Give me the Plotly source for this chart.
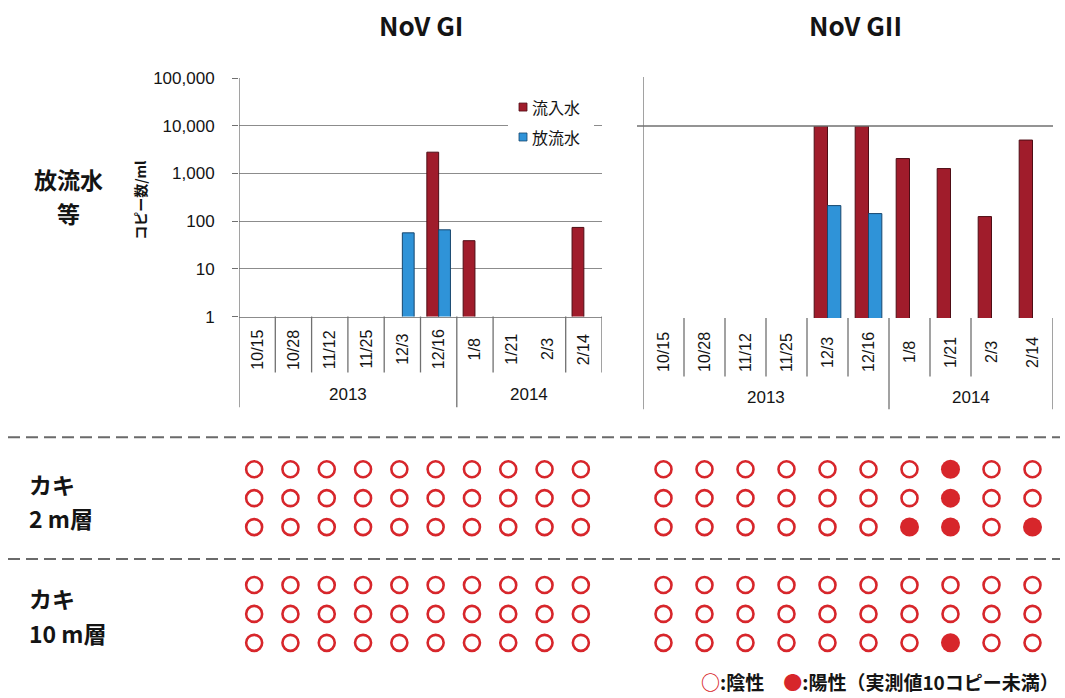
import plotly.graph_objects as go

W, H = 1065, 698

# ---- data -------------------------------------------------------------
dates = ["10/15", "10/28", "11/12", "11/25", "12/3", "12/16", "1/8", "1/21", "2/3", "2/14"]
years = ["2013"] * 6 + ["2014"] * 4

# copies/ml in sewage water (None = not detected)
gi_influent = [None, None, None, None, None, 2800, 39, None, None, 74]
gi_effluent = [None, None, None, None, 57, 66, None, None, None, None]
gii_influent = [None, None, None, None, 10000, 10000, 2100, 1300, 130, 5100]
gii_effluent = [None, None, None, None, 220, 150, None, None, None, None]

y_tickvals = [1, 10, 100, 1000, 10000, 100000]
y_ticktext = ["1", "10", "100", "1,000", "10,000", "100,000"]

# oysters, 3 specimens per sampling date: 0 = negative, 1 = positive (<10 copies)
gi_oyster_2m = [[0] * 10, [0] * 10, [0] * 10]
gi_oyster_10m = [[0] * 10, [0] * 10, [0] * 10]
gii_oyster_2m = [
    [0, 0, 0, 0, 0, 0, 0, 1, 0, 0],
    [0, 0, 0, 0, 0, 0, 0, 1, 0, 0],
    [0, 0, 0, 0, 0, 0, 1, 1, 0, 1],
]
gii_oyster_10m = [
    [0, 0, 0, 0, 0, 0, 0, 0, 0, 0],
    [0, 0, 0, 0, 0, 0, 0, 0, 0, 0],
    [0, 0, 0, 0, 0, 0, 0, 1, 0, 0],
]

# ---- styles -----------------------------------------------------------
RED_BAR = "#a01c2b"
RED_EDGE = "#4e0d15"
BLUE_BAR = "#2f93d8"
BLUE_EDGE = "#17476e"
DOT_RED = "#d7262b"
GRID = "#8c8c8c"
AXIS = "#707070"
TEXT = "#141414"
JP = "Noto Sans CJK JP"
LAT = "Liberation Sans, Arial, sans-serif"


def px(x):
    return x / W


def py(y):
    # vertical pixel -> paper fraction, stretched slightly about the middle
    yc = H / 2 + (y - H / 2) / 0.975
    return 1 - yc / H


fig = go.Figure()

# ---- bar charts -------------------------------------------------------
for xa, ya, infl, effl in [("x", "y", gi_influent, gi_effluent),
                           ("x2", "y2", gii_influent, gii_effluent)]:
    fig.add_trace(go.Bar(x=dates, y=infl, name="流入水", xaxis=xa, yaxis=ya,
                         marker=dict(color=RED_BAR, line=dict(color=RED_EDGE, width=1)),
                         showlegend=False))
    fig.add_trace(go.Bar(x=dates, y=effl, name="放流水", xaxis=xa, yaxis=ya,
                         marker=dict(color=BLUE_BAR, line=dict(color=BLUE_EDGE, width=1)),
                         showlegend=False))


# ---- oyster dot grids -------------------------------------------------
def dot_points(layers):
    neg_x, neg_y, pos_x, pos_y = [], [], [], []
    row = 0
    for layer in layers:
        for specimen in layer:
            for d, v in zip(dates, specimen):
                if v:
                    pos_x.append(d)
                    pos_y.append(row)
                else:
                    neg_x.append(d)
                    neg_y.append(row)
            row += 1
        row += 1  # empty row between the two depth layers
    return neg_x, neg_y, pos_x, pos_y


for xa, ya, layers in [("x3", "y3", [gi_oyster_2m, gi_oyster_10m]),
                       ("x4", "y4", [gii_oyster_2m, gii_oyster_10m])]:
    nx, ny, qx, qy = dot_points(layers)
    fig.add_trace(go.Scatter(x=nx, y=ny, xaxis=xa, yaxis=ya, mode="markers",
                             marker=dict(symbol="circle-open", size=16, color=DOT_RED,
                                         line=dict(width=2.6, color=DOT_RED)),
                             showlegend=False, name="陰性"))
    fig.add_trace(go.Scatter(x=qx, y=qy, xaxis=xa, yaxis=ya, mode="markers",
                             marker=dict(symbol="circle", size=19, color=DOT_RED,
                                         line=dict(width=0)),
                             showlegend=False, name="陽性"))

# ---- axes -------------------------------------------------------------
cat_axis = dict(type="category", categoryorder="array", categoryarray=dates,
                showticklabels=False, ticks="", showgrid=False, zeroline=False,
                range=[-0.5, len(dates) - 0.5], fixedrange=True)

fig.update_layout(
    xaxis=dict(cat_axis, domain=[px(239), px(602)], anchor="y",
               showline=True, linecolor=GRID, linewidth=1),
    yaxis=dict(type="log", range=[0, 5], domain=[py(317), py(78)], anchor="x",
               tickvals=y_tickvals, ticktext=y_ticktext, showgrid=True,
               gridcolor=GRID, gridwidth=1, ticks="outside", ticklen=6,
               tickcolor=AXIS, showline=False, zeroline=False,
               tickfont=dict(family=LAT, size=17, color=TEXT), ticklabelstandoff=14),
    xaxis2=dict(cat_axis, domain=[px(643), px(1053)], anchor="y2", showline=False),
    yaxis2=dict(type="log", range=[0, 4], domain=[py(318.5), py(126)], anchor="x2",
                showgrid=False, showticklabels=False, ticks="", showline=False,
                zeroline=False),
    xaxis3=dict(cat_axis, domain=[px(236), px(599)], anchor="y3", visible=False),
    yaxis3=dict(range=[6.5, -0.5], domain=[py(658.5), py(455.5)], anchor="x3",
                visible=False),
    xaxis4=dict(cat_axis, domain=[px(643), px(1053)], anchor="y4", visible=False),
    yaxis4=dict(range=[6.5, -0.5], domain=[py(658.5), py(455.5)], anchor="x4",
                visible=False),
    barmode="group", bargap=0.35, bargroupgap=0,
    width=W, height=H, margin=dict(l=0, r=0, t=0, b=0),
    paper_bgcolor="white", plot_bgcolor="rgba(0,0,0,0)",
    showlegend=False,
)

# ---- category dividers and axis lines ---------------------------------
shapes = []


def vline(xref, x, y0, y1, color=AXIS):
    shapes.append(dict(type="line", xref=xref, yref="paper", x0=x, x1=x,
                       y0=py(y0), y1=py(y1), line=dict(color=color, width=1.3)))


# left chart
vline("x", -0.5, 78, 408)
vline("x", 5.5, 317, 408)
for b in [0.5, 1.5, 2.5, 3.5, 4.5, 6.5, 8.5, 9.5]:
    vline("x", b, 317, 373)
# right chart
vline("x2", -0.5, 77, 410)
vline("x2", 5.5, 318.5, 410)
vline("x2", 9.5, 318.5, 410)
for b in [0.5, 1.5, 2.5, 3.5, 4.5, 6.5, 7.5]:
    vline("x2", b, 318.5, 377)
# 10,000 line of the right chart
shapes.append(dict(type="line", xref="paper", yref="y2 domain", x0=px(637), x1=px(1053),
                   y0=1, y1=1, line=dict(color=AXIS, width=1.3)))

# dashed separators between the three panels
for yy in [438, 560]:
    shapes.append(dict(type="line", xref="paper", yref="paper", x0=px(8), x1=px(1060),
                       y0=py(yy), y1=py(yy),
                       line=dict(color="#6a6a6a", width=2, dash="12px,6px")))

# legend box for the sewage chart
shapes.append(dict(type="rect", xref="paper", yref="paper", x0=px(508), x1=px(594),
                   y0=py(150), y1=py(96), fillcolor="white", line=dict(width=0),
                   layer="above"))
for yy, col, edge in [(107, RED_BAR, RED_EDGE), (137, BLUE_BAR, BLUE_EDGE)]:
    shapes.append(dict(type="rect", xref="paper", yref="paper", x0=px(519), x1=px(527),
                       y0=py(yy + 4), y1=py(yy - 4), fillcolor=col,
                       line=dict(color=edge, width=0.8), layer="above"))

fig.update_layout(shapes=shapes)

# ---- text -------------------------------------------------------------
ann = []


def text(x, y, s, size, family=JP, xanchor="center", angle=0, xref="paper", color=TEXT):
    ann.append(dict(x=x, y=y, xref=xref, yref="paper", text=s, showarrow=False,
                    xanchor=xanchor, yanchor="middle", textangle=angle,
                    font=dict(family=family, size=size, color=color)))


text(px(421), py(24), "<b>NoV GI</b>", 26)
text(px(855), py(24), "<b>NoV GII</b>", 26)

text(px(140), py(200), "<b>コピー数/ml</b>", 14, angle=-90)
text(px(530), py(107), "流入水", 16, xanchor="left")
text(px(530), py(137), "放流水", 16, xanchor="left")

for d in dates:
    text(d, py(350), d, 16, family=LAT, angle=-90, xref="x")
    text(d, py(353), d, 16, family=LAT, angle=-90, xref="x2")
for yr in sorted(set(years)):
    idx = [i for i, v in enumerate(years) if v == yr]
    mid = (idx[0] + idx[-1]) / 2
    text(mid, py(395), yr, 17, family=LAT, xref="x")
    text(mid, py(398), yr, 17, family=LAT, xref="x2")

text(px(68), py(179), "<b>放流水</b>", 23)
text(px(68), py(213), "<b>等</b>", 23)
text(px(27), py(485), "<b>カキ</b>", 23, xanchor="left")
text(px(27), py(519), "<b>2 m層</b>", 23, xanchor="left")
text(px(27), py(599), "<b>カキ</b>", 23, xanchor="left")
text(px(27), py(634), "<b>10 m層</b>", 23, xanchor="left")

ann.append(dict(x=px(1061), y=py(683), xref="paper", yref="paper", showarrow=False,
                xanchor="right", yanchor="middle",
                text=(f"<b><span style='color:{DOT_RED}'>○</span>:陰性　"
                      f"<span style='color:{DOT_RED}'>●</span>:陽性（実測値10コピー未満）</b>"),
                font=dict(family=JP, size=19, color=TEXT)))

fig.update_layout(annotations=ann)

fig.write_html("out.html")
